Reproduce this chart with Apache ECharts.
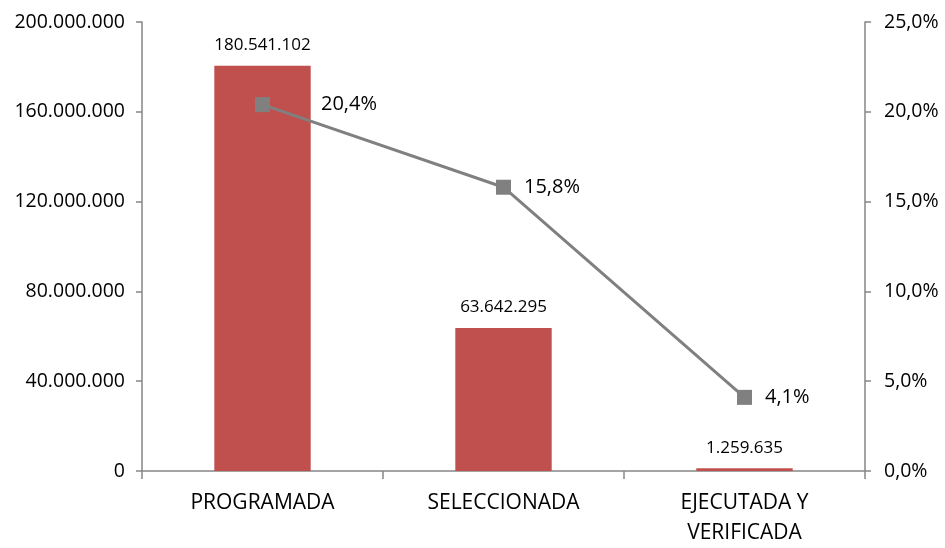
<!DOCTYPE html>
<html><head><meta charset="utf-8">
<script src="https://cdn.jsdelivr.net/npm/echarts@6/dist/echarts.min.js"></script>
<style>html,body{margin:0;padding:0;background:#fff;overflow:hidden}#c{width:945px;height:548px}</style>
</head><body><div id="c"></div>
<script>
const categories = ['PROGRAMADA', 'SELECCIONADA', 'EJECUTADA Y\nVERIFICADA'];
const amounts = [180541102, 63642295, 1259635];
const percents = [20.4, 15.8, 4.1];
const leftTicks = {min: 0, max: 200000000, interval: 40000000};
const rightTicks = {min: 0, max: 25, interval: 5};

function dots(v){ return String(Math.round(v)).replace(/\B(?=(\d{3})+(?!\d))/g, '.'); }
function pct(v){ return v.toFixed(1).replace('.', ',') + '%'; }

const FONT = '"Open Sans", sans-serif';
const axisGrey = '#868686';
const chart = echarts.init(document.getElementById('c'), null, {renderer: 'canvas'});
chart.setOption({
  animation: false,
  backgroundColor: '#ffffff',
  grid: {left: 142, right: 80, top: 22, bottom: 72, containLabel: false},
  xAxis: {
    type: 'category', data: categories,
    axisLine: {lineStyle: {color: axisGrey, width: 1.5}},
    axisTick: {show: true, length: 8, lineStyle: {color: axisGrey, width: 1.5}},
    axisLabel: {color: '#000', fontSize: 21, fontFamily: FONT, margin: 17, lineHeight: 30}
  },
  yAxis: [
    {type: 'value', min: leftTicks.min, max: leftTicks.max, interval: leftTicks.interval,
     splitLine: {show: false},
     axisLine: {show: true, lineStyle: {color: axisGrey, width: 1.5}},
     axisTick: {show: true, length: 6, lineStyle: {color: axisGrey, width: 1.5}},
     axisLabel: {color: '#000', fontSize: 19.5, fontFamily: FONT, margin: 17, formatter: dots}},
    {type: 'value', min: rightTicks.min, max: rightTicks.max, interval: rightTicks.interval,
     position: 'right', splitLine: {show: false},
     axisLine: {show: true, lineStyle: {color: axisGrey, width: 1.5}},
     axisTick: {show: true, length: 6, lineStyle: {color: axisGrey, width: 1.5}},
     axisLabel: {color: '#000', fontSize: 19.5, fontFamily: FONT, margin: 19, formatter: pct}}
  ],
  series: [
    {type: 'bar', data: amounts, barWidth: '40%', yAxisIndex: 0,
     itemStyle: {color: '#C0504D'},
     label: {show: true, position: 'top', distance: 12, color: '#000', fontSize: 17, fontFamily: FONT, formatter: p => dots(p.value)}},
    {type: 'line', yAxisIndex: 1,
     data: percents.map((v, i) => ({value: v, label: {distance: i === 0 ? 51 : 13}})),
     lineStyle: {color: '#808080', width: 3},
     itemStyle: {color: '#808080'},
     symbol: 'rect', symbolSize: 15,
     label: {show: true, position: 'right', color: '#000', fontSize: 20, fontFamily: FONT, formatter: p => pct(p.value)}}
  ]
});
</script></body></html>
